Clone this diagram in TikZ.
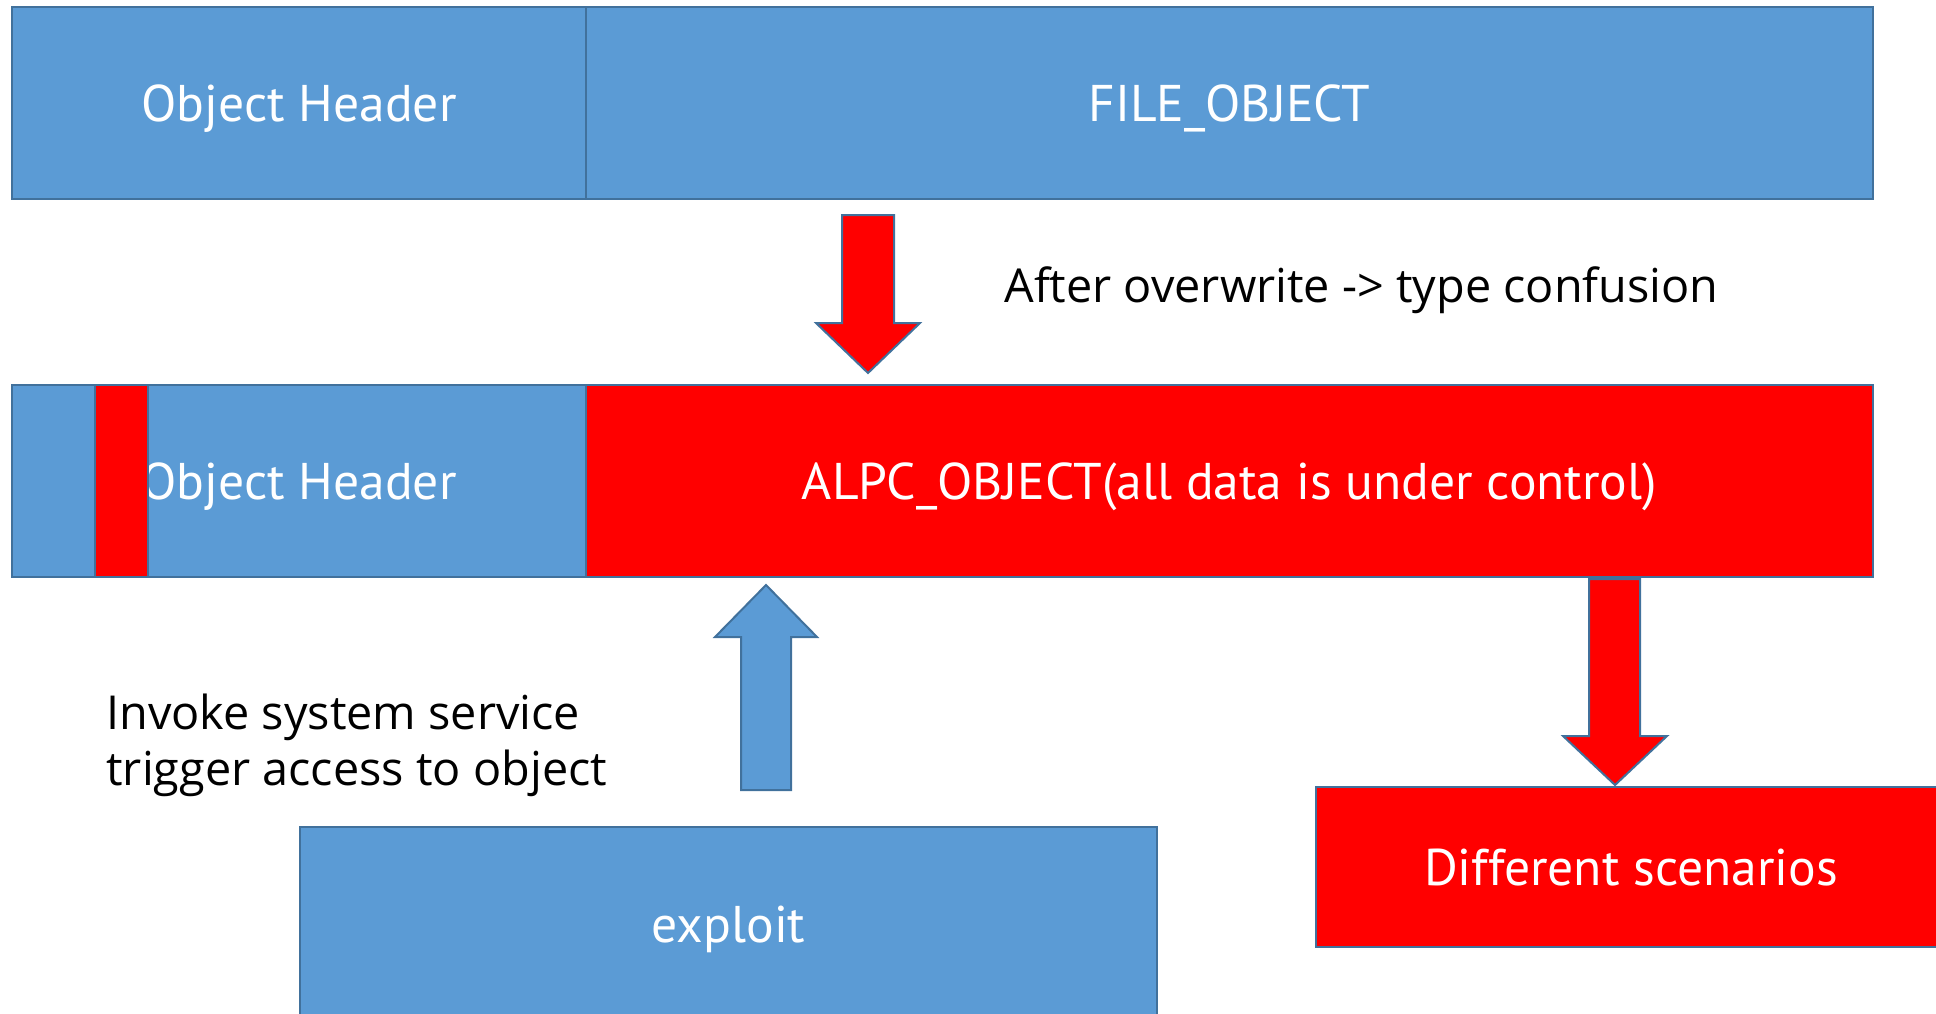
\documentclass[tikz,border=0pt]{standalone}
\usepackage{fontspec}
\setmainfont{Open Sans}
\newfontfamily\boxfont{PT Sans}
\definecolor{boxblue}{HTML}{5B9BD5}
\definecolor{edgeblue}{HTML}{41719C}
\definecolor{hotred}{HTML}{FF0000}
\tikzset{
	blk/.style={draw=edgeblue, line width=1pt, fill=boxblue, text=white, inner sep=0pt,
		font=\boxfont\fontsize{25.8}{30}\selectfont, text height=18pt, text depth=0pt,
		minimum height=96pt},
	redblk/.style={blk, fill=hotred},
	blockarrow/.style={draw=edgeblue, line width=1pt, line join=miter},
	note/.style={font=\fontsize{23.4}{28}\selectfont, align=left, inner sep=0pt, anchor=west}
}
\begin{document}
\begin{tikzpicture}[x=0.5pt,y=-0.5pt]
	\useasboundingbox (0,0) rectangle (1936,1013);
	\clip (0,0) rectangle (1936,1013);
	
	% before overwrite
	\node [blk, minimum width=287pt] (hdrtop) at (299,103) {Object Header};
	\node [blk, minimum width=643.5pt] (fileobj) at (1229.5,103) {FILE\_OBJECT};
	
	% after overwrite
	\node [blk, minimum width=287pt] (hdrbot) at (299,481) {Object Header};
	\node [redblk, minimum width=26.5pt] (slot) at (121.5,481) {};
	\node [redblk, minimum width=643.5pt] (alpc) at (1229.5,481) {ALPC\_OBJECT(all data is under control)};
	
	\node [blk, minimum width=428.5pt, minimum height=97pt] (exploit) at (728.5,924) {exploit};
	\node [redblk, minimum width=315pt, minimum height=80pt] (scen) at (1631,867) {Different scenarios};
	
	% block arrows
	\draw [blockarrow, fill=hotred] (842,215) -- (894,215) -- (894,323) -- (920,323) -- (868,373)
		-- (816,323) -- (842,323) -- cycle;
	\draw [blockarrow, fill=boxblue] (741,790) -- (791,790) -- (791,637) -- (817,637) -- (766,585)
		-- (715,637) -- (741,637) -- cycle;
	\draw [blockarrow, fill=hotred] (1589,579) -- (1640,579) -- (1640,736) -- (1667,736) -- (1615,785)
		-- (1563,736) -- (1589,736) -- cycle;
	
	\node [note] (confuse) at (1004,290) {After overwrite -> type confusion};
	\node [note] (invoke) at (106,745) {Invoke system service\\trigger access to object};
\end{tikzpicture}
\end{document}
